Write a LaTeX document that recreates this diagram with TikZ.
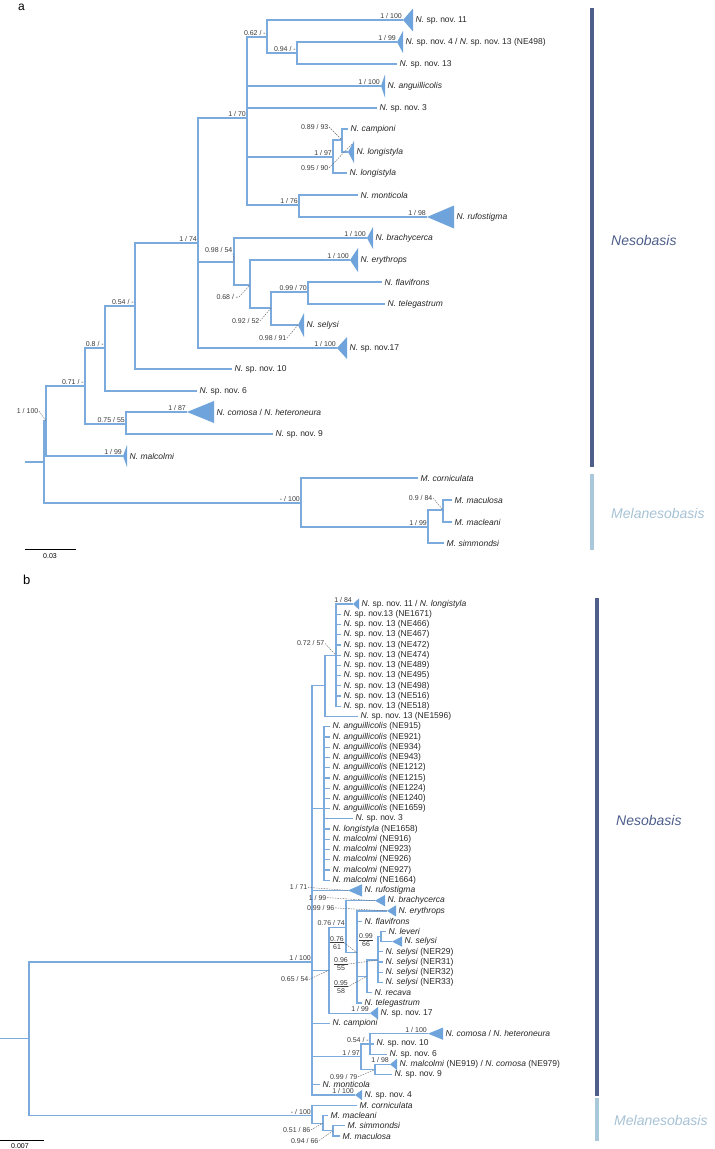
\documentclass[tikz,border=0pt]{standalone}
\usepackage{fontspec}
\setmainfont{Liberation Sans}
\frenchspacing

\definecolor{branch}{HTML}{7BAADD}
\definecolor{cladefill}{HTML}{6EA3DB}
\definecolor{txt}{HTML}{262626}
\definecolor{supptxt}{HTML}{3A3A3A}
\definecolor{nesobar}{HTML}{4F5F8A}
\definecolor{nesotext}{HTML}{4D5E8C}
\definecolor{melabar}{HTML}{A9C9DA}
\definecolor{melatext}{HTML}{A6C2D6}

\newcommand\taxfont{\fontsize{8.5}{9}\selectfont}
\newcommand\supfont{\fontsize{7}{8}\selectfont}
\newcommand\Ni[1]{\textit{N. #1}}
\newcommand\Mi[1]{\textit{M. #1}}
\newcommand\Nsp{\textit{N.} sp.\ nov.}
\newcommand\cladetri[4]{\fill[tri] (#1) -- ++(#2,-#3) -- ++(0,2*#3) -- cycle;
  \coordinate (#4) at ([xshift=#2pt]#1);}

\begin{document}
\begin{tikzpicture}[x=1pt,y=-1pt,
  br/.style={draw=branch,line width=1.2pt},
  tri/.style={fill=cladefill},
  tip/.style={anchor=west,inner sep=0pt,xshift=2.5pt,font=\taxfont,text=txt},
  supp/.style={anchor=south east,inner sep=0pt,xshift=-1pt,yshift=1.2pt,font=\supfont,text=supptxt},
  suppl/.style={anchor=east,inner sep=0.5pt,font=\supfont,text=supptxt},
  frac/.style={align=center,inner sep=0pt,font=\supfont,text=supptxt},
  lead/.style={draw=black!60,line width=0.4pt,dash pattern=on 1.6pt off 1pt},
  clado/.style={anchor=west,inner sep=0pt,font=\fontsize{14}{15}\selectfont\itshape}]

\useasboundingbox (0,0) rectangle (715,1149);

% ---- panel a ----
\node[anchor=base west,inner sep=0pt,font=\fontsize{12}{12}\selectfont] (pa) at (18,10) {a};

\coordinate (a0) at (25,462);
\coordinate (aR) at (44,462);
\coordinate (aNes) at (46,421);
\coordinate (a071) at (85,386);
\coordinate (a08) at (105,348);
\coordinate (a054) at (135,306);
\coordinate (a174) at (198,243);
\coordinate (a170) at (247,118);
\coordinate (a062) at (267,37);
\coordinate (a094) at (297,53);
\coordinate (a197) at (333,157);
\coordinate (a089) at (342,140);
\coordinate (a176) at (299,205);
\coordinate (a098) at (234,262);
\coordinate (a068) at (250,285);
\coordinate (a092) at (271,308);
\coordinate (a099) at (308,292);
\coordinate (a075) at (126,424);
\coordinate (aMel) at (301,503);
\coordinate (a199) at (428,527);
\coordinate (a09) at (443,510);

\coordinate (aSp11) at (403,20);
\coordinate (aSp4) at (397,42);
\coordinate (aSp13) at (397,64);
\coordinate (aAng) at (381,86);
\coordinate (aSp3) at (377,108);
\coordinate (aCam) at (348,129);
\coordinate (aLon) at (348,152);
\coordinate (aLon2) at (347,173);
\coordinate (aMon) at (358,195);
\coordinate (aRuf) at (427,217);
\coordinate (aBra) at (367,238);
\coordinate (aEry) at (350,260);
\coordinate (aFla) at (382,282);
\coordinate (aTel) at (385,304);
\coordinate (aSel) at (298,325);
\coordinate (aSp17) at (337,348);
\coordinate (aSp10) at (232,369);
\coordinate (aSp6) at (197,391);
\coordinate (aCom) at (187,412);
\coordinate (aSp9) at (273,434);
\coordinate (aMal) at (123,456);
\coordinate (aCor) at (418,478);
\coordinate (aMac) at (452,500);
\coordinate (aMcl) at (452,522);
\coordinate (aSim) at (444,543);

\draw[br] (a0) -- (aR);
\foreach \p/\c in {aR/aNes, aR/aMel, aNes/a071, aNes/aMal, a071/a08, a071/a075,
    a08/a054, a08/aSp6, a054/a174, a054/aSp10, a174/a170, a174/a098, a174/aSp17,
    a170/a062, a170/aAng, a170/aSp3, a170/a197, a170/a176, a062/aSp11, a062/a094,
    a094/aSp4, a094/aSp13, a197/a089, a197/aLon2, a089/aCam, a089/aLon,
    a176/aMon, a176/aRuf, a098/aBra, a098/a068, a068/aEry, a068/a092,
    a092/a099, a092/aSel, a099/aFla, a099/aTel, a075/aCom, a075/aSp9,
    aMel/aCor, aMel/a199, a199/a09, a199/aSim, a09/aMac, a09/aMcl}
  \draw[br] (\p) |- (\c);

\cladetri{aSp11}{10}{11.5}{aSp11e}
\cladetri{aSp4}{6}{11}{aSp4e}
\cladetri{aAng}{4}{11.5}{aAnge}
\cladetri{aLon}{6}{11}{aLone}
\cladetri{aRuf}{27}{11.5}{aRufe}
\cladetri{aBra}{6}{11}{aBrae}
\cladetri{aEry}{8}{12}{aErye}
\cladetri{aSel}{6}{12}{aSele}
\cladetri{aSp17}{10}{11}{aSp17e}
\cladetri{aCom}{27}{11}{aCome}
\cladetri{aMal}{4}{11}{aMale}

\node[tip] (l-aSp11) at (aSp11e) {\Nsp{} 11};
\node[tip] (l-aSp4) at (aSp4e) {\Nsp{} 4 / \Nsp{} 13 (NE498)};
\node[tip] (l-aSp13) at (aSp13) {\Nsp{} 13};
\node[tip] (l-aAng) at (aAnge) {\Ni{anguillicolis}};
\node[tip] (l-aSp3) at (aSp3) {\Nsp{} 3};
\node[tip] (l-aCam) at (aCam) {\Ni{campioni}};
\node[tip] (l-aLon) at (aLone) {\Ni{longistyla}};
\node[tip] (l-aLon2) at (aLon2) {\Ni{longistyla}};
\node[tip] (l-aMon) at (aMon) {\Ni{monticola}};
\node[tip] (l-aRuf) at (aRufe) {\Ni{rufostigma}};
\node[tip] (l-aBra) at (aBrae) {\Ni{brachycerca}};
\node[tip] (l-aEry) at (aErye) {\Ni{erythrops}};
\node[tip] (l-aFla) at (aFla) {\Ni{flavifrons}};
\node[tip] (l-aTel) at (aTel) {\Ni{telegastrum}};
\node[tip] (l-aSel) at (aSele) {\Ni{selysi}};
\node[tip] (l-aSp17) at (aSp17e) {\Nsp17};
\node[tip] (l-aSp10) at (aSp10) {\Nsp{} 10};
\node[tip] (l-aSp6) at (aSp6) {\Nsp{} 6};
\node[tip] (l-aCom) at (aCome) {\Ni{comosa} / \Ni{heteroneura}};
\node[tip] (l-aSp9) at (aSp9) {\Nsp{} 9};
\node[tip] (l-aMal) at (aMale) {\Ni{malcolmi}};
\node[tip] (l-aCor) at (aCor) {\Mi{corniculata}};
\node[tip] (l-aMac) at (aMac) {\Mi{maculosa}};
\node[tip] (l-aMcl) at (aMcl) {\Mi{macleani}};
\node[tip] (l-aSim) at (aSim) {\Mi{simmondsi}};

\foreach \c/\post/\boot in {aSp11/1/100, aSp4/1/99, a062/0.62/-, a094/0.94/-,
    aAng/1/100, a170/1/70, a197/1/97, a176/1/76, aRuf/1/98, a174/1/74,
    aBra/1/100, aEry/1/100, a099/0.99/70, aSp17/1/100, a054/0.54/-, a08/0.8/-,
    a071/0.71/-, aCom/1/87, a075/0.75/55, aMal/1/99, aMel/-/100, a199/1/99}
  \node[supp] (s-\c) at (\c) {\post\ / \boot};

\coordinate (aLonp) at (352,144);
\node[suppl] (s-a089) at (329,127) {0.89 / 93};
\node[suppl] (s-aLon) at (329,168) {0.95 / 90};
\node[suppl] (s-a098) at (233,250) {0.98 / 54};
\node[suppl] (s-a068) at (239,297) {0.68 / -};
\node[suppl] (s-a092) at (260,321) {0.92 / 52};
\node[suppl] (s-aSel) at (287,338) {0.98 / 91};
\node[suppl] (s-aNes) at (39,411) {1 / 100};
\node[suppl] (s-a09) at (433,498) {0.9 / 84};
\draw[lead] (s-a089.east) -- (a089);
\draw[lead] (s-aLon.east) -- (aLonp);
\draw[lead] (s-a098.south east) -- (a098);
\draw[lead] (s-a068.east) -- (a068);
\draw[lead] (s-a092.east) -- (a092);
\draw[lead] (s-aSel.east) -- (aSel);
\draw[lead] (s-aNes.east) -- (aNes);
\draw[lead] (s-a09.east) -- (a09);

\draw[black,line width=0.8pt] (25,549) -- (76,549);
\node[font=\supfont,inner sep=0pt] (scA) at (50,556) {0.03};

\draw[nesobar,line width=4pt] (592,8) -- (592,467);
\draw[melabar,line width=4pt] (592,474) -- (592,550);
\node[clado,text=nesotext] (nesA) at (611,240) {Nesobasis};
\node[clado,text=melatext] (melA) at (611,513) {Melanesobasis};

% ---- panel b ----
\node[anchor=base west,inner sep=0pt,font=\fontsize{13}{13}\selectfont] (pb) at (23,584) {b};

\draw[black,line width=0.8pt] (0,1140) -- (44,1140);
\node[font=\supfont,inner sep=0pt] (scB) at (20,1146) {0.007};

\draw[nesobar,line width=4pt] (597,598) -- (597,1096);
\draw[melabar,line width=4pt] (597,1098) -- (597,1141);
\node[clado,text=nesotext] (nesB) at (616,820) {Nesobasis};
\node[clado,text=melatext] (melB) at (614,1120) {Melanesobasis};

\begin{scope}[yshift=-593.77pt,y=-10.23pt]
\coordinate (b0) at (0,43.5);
\coordinate (bR) at (29,43.5);
\coordinate (bNes) at (312,36);
\coordinate (bA) at (325,9);
\coordinate (bB) at (336,6);
\coordinate (bC) at (324,21);
\coordinate (b065) at (329,36.8);
\coordinate (b076) at (346,32.6);
\coordinate (bX) at (357,35.1);
\coordinate (bZ) at (367,37.4);
\coordinate (bW) at (378,35.8);
\coordinate (bV) at (381,33.5);
\coordinate (b197) at (361,45.25);
\coordinate (bP) at (370,44);
\coordinate (bQ) at (375,46.5);
\coordinate (bMel) at (312,51);
\coordinate (bM2) at (323,51.75);
\coordinate (bM3) at (333,52.5);

\coordinate (bt1) at (353,1);
\foreach \r in {2,...,11} \coordinate (bt\r) at (341,\r);
\coordinate (bt12) at (358,12);
\foreach \r in {13,...,28} \coordinate (bt\r) at (330,\r);
\coordinate (bt22) at (353,22);
\coordinate (bt29) at (348,29);
\coordinate (bt30) at (375,30);
\coordinate (bt31) at (387,31);
\coordinate (bt32) at (362,32);
\coordinate (bt33) at (386,33);
\coordinate (bt34) at (392,34);
\foreach \r in {35,...,38} \coordinate (bt\r) at (383,\r);
\coordinate (bt39) at (372,39);
\coordinate (bt40) at (362,40);
\coordinate (bt41) at (370,41);
\coordinate (bt42) at (330,42);
\coordinate (bt43) at (428,43);
\coordinate (bt44) at (374,44);
\coordinate (bt45) at (387,45);
\coordinate (bt46) at (390,46);
\coordinate (bt47) at (392,47);
\coordinate (bt48) at (320,48);
\coordinate (bt49) at (355,49);
\coordinate (bt50) at (357,50);
\coordinate (bt51) at (328,51);
\coordinate (bt52) at (345,52);
\coordinate (bt53) at (340,53);

\draw[br] (b0) -- (bR);
\foreach \p/\c in {bR/bNes, bR/bMel, bNes/bA, bNes/bC, bNes/bt29, bNes/b065,
    bNes/bt42, bNes/b197, bNes/bt48, bNes/bt49, bA/bB, bA/bt12,
    b065/b076, b065/bt41, b076/bt30, b076/bX, bX/bt31, bX/bt32, bX/bZ, bX/bt40,
    bZ/bW, bZ/bt39, bW/bV, bV/bt33, bV/bt34, b197/bP, b197/bQ,
    bP/bt43, bP/bt44, bP/bt45, bQ/bt46, bQ/bt47,
    bMel/bt50, bMel/bM2, bM2/bt51, bM2/bM3, bM3/bt52, bM3/bt53}
  \draw[br] (\p) |- (\c);
\foreach \r in {1,...,11} \draw[br] (bB) |- (bt\r);
\foreach \r in {13,...,28} \draw[br] (bC) |- (bt\r);
\foreach \r in {35,...,38} \draw[br] (bW) |- (bt\r);

\cladetri{bt1}{6}{0.55}{bt1e}
\cladetri{bt29}{14}{0.6}{bt29e}
\cladetri{bt30}{10}{0.55}{bt30e}
\cladetri{bt31}{9}{0.55}{bt31e}
\cladetri{bt34}{10}{0.5}{bt34e}
\cladetri{bt41}{8}{0.6}{bt41e}
\cladetri{bt43}{15}{0.6}{bt43e}
\cladetri{bt46}{7}{0.55}{bt46e}
\cladetri{bt49}{7}{0.5}{bt49e}

\node[tip] (bl1) at (bt1e) {\Nsp{} 11 / \Ni{longistyla}};
\node[tip] (bl2) at (bt2) {\Nsp13 (NE1671)};
\foreach \r/\n in {3/466,4/467,5/472,6/474,7/489,8/495,9/498,10/516,11/518}
  \node[tip] (bl\r) at (bt\r) {\Nsp{} 13 (NE\n)};
\node[tip] (bl12) at (bt12) {\Nsp{} 13 (NE1596)};
\foreach \r/\n in {13/915,14/921,15/934,16/943,17/1212,18/1215,19/1224,20/1240,21/1659}
  \node[tip] (bl\r) at (bt\r) {\Ni{anguillicolis} (NE\n)};
\node[tip] (bl22) at (bt22) {\Nsp{} 3};
\node[tip] (bl23) at (bt23) {\Ni{longistyla} (NE1658)};
\foreach \r/\n in {24/916,25/923,26/926,27/927,28/1664}
  \node[tip] (bl\r) at (bt\r) {\Ni{malcolmi} (NE\n)};
\node[tip] (bl29) at (bt29e) {\Ni{rufostigma}};
\node[tip] (bl30) at (bt30e) {\Ni{brachycerca}};
\node[tip] (bl31) at (bt31e) {\Ni{erythrops}};
\node[tip] (bl32) at (bt32) {\Ni{flavifrons}};
\node[tip] (bl33) at (bt33) {\Ni{leveri}};
\node[tip] (bl34) at (bt34e) {\Ni{selysi}};
\foreach \r/\n in {35/29,36/31,37/32,38/33}
  \node[tip] (bl\r) at (bt\r) {\Ni{selysi} (NER\n)};
\node[tip] (bl39) at (bt39) {\Ni{recava}};
\node[tip] (bl40) at (bt40) {\Ni{telegastrum}};
\node[tip] (bl41) at (bt41e) {\Nsp{} 17};
\node[tip] (bl42) at (bt42) {\Ni{campioni}};
\node[tip] (bl43) at (bt43e) {\Ni{comosa} / \Ni{heteroneura}};
\node[tip] (bl44) at (bt44) {\Nsp{} 10};
\node[tip] (bl45) at (bt45) {\Nsp{} 6};
\node[tip] (bl46) at (bt46e) {\Ni{malcolmi} (NE919) / \Ni{comosa} (NE979)};
\node[tip] (bl47) at (bt47) {\Nsp{} 9};
\node[tip] (bl48) at (bt48) {\Ni{monticola}};
\node[tip] (bl49) at (bt49e) {\Nsp{} 4};
\node[tip] (bl50) at (bt50) {\Mi{corniculata}};
\node[tip] (bl51) at (bt51) {\Mi{macleani}};
\node[tip] (bl52) at (bt52) {\Mi{simmondsi}};
\node[tip] (bl53) at (bt53) {\Mi{maculosa}};

\foreach \c/\post/\boot in {bt1/1/84, b076/0.76/74, bt41/1/99, bNes/1/100,
    bt43/1/100, bP/0.54/-, b197/1/97, bt46/1/98, bt49/1/100, bMel/-/100}
  \node[supp] (s-\c) at (\c) {\post\ / \boot};

\node[suppl] (s-bB) at (325,4.85) {0.72 / 57};
\node[suppl] (s-bt29) at (308,28.7) {1 / 71};
\node[suppl] (s-bt30) at (327,29.7) {1 / 99};
\node[suppl] (s-bt31) at (335,30.7) {0.99 / 96};
\node[suppl] (s-b065) at (309,37.7) {0.65 / 54};
\node[suppl] (s-bQ) at (358,47.2) {0.99 / 79};
\node[suppl] (s-bM2) at (311,52.4) {0.51 / 86};
\node[suppl] (s-bM3) at (319,53.45) {0.94 / 66};
\node[frac] (s-bX) at (337,34.1) {\underline{0.76}\\61};
\node[frac] (s-bV) at (366,33.9) {\underline{0.99}\\66};
\node[frac] (s-bW) at (341,36.2) {\underline{0.96}\\55};
\node[frac] (s-bZ) at (341,38.4) {\underline{0.95}\\58};

\foreach \s/\c in {s-bB/bB, s-bt29/bt29, s-bt30/bt30, s-bt31/bt31, s-b065/b065,
    s-bQ/bQ, s-bM2/bM2, s-bM3/bM3, s-bX/bX, s-bW/bW, s-bZ/bZ}
  \draw[lead] (\s.east) -- (\c);
\end{scope}
\end{tikzpicture}
\end{document}
